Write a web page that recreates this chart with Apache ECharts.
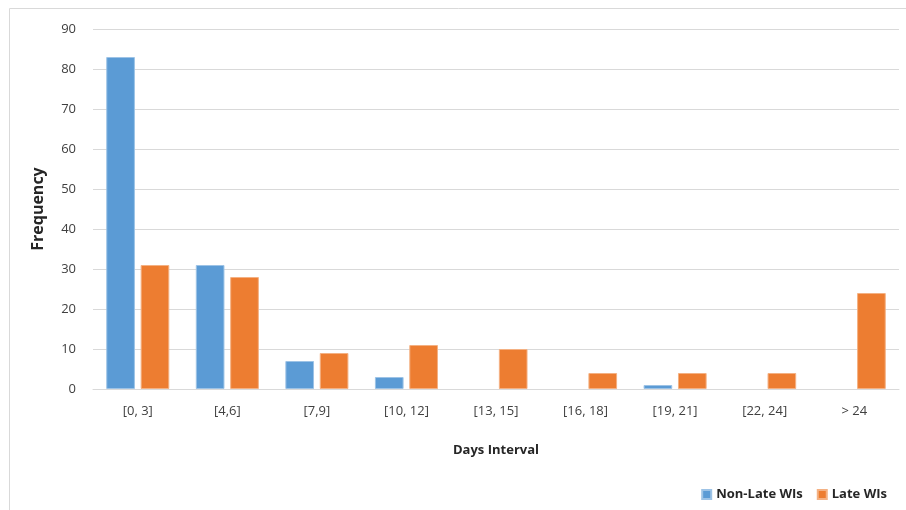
<!DOCTYPE html>
<html><head><meta charset="utf-8">
<script src="https://cdn.jsdelivr.net/npm/echarts@6/dist/echarts.min.js"></script>
<style>html,body{margin:0;padding:0;background:#fff}#c{width:906px;height:510px}</style>
</head><body><div id="c"></div>
<script>
const categories = ['[0, 3]', '[4,6]', '[7,9]', '[10, 12]', '[13, 15]', '[16, 18]', '[19, 21]', '[22, 24]', '> 24'];
const nonLate = [83, 31, 7, 3, 0, 0, 1, 0, 0];
const late = [31, 28, 9, 11, 10, 4, 4, 4, 24];
const yTicks = [0, 10, 20, 30, 40, 50, 60, 70, 80, 90];

const font = '"Open Sans", "Liberation Sans", sans-serif';
function toItems(arr) {
  return arr.map(v => v === 0 ? {value: v, itemStyle: {borderWidth: 0}} : v);
}
const chart = echarts.init(document.getElementById('c'), null, {renderer: 'canvas'});
chart.setOption({
  animation: false,
  textStyle: {fontFamily: font},
  graphic: [{type: 'rect', shape: {x: 9.5, y: 8.5, width: 910, height: 520}, style: {fill: 'none', stroke: '#d9d9d9', lineWidth: 1}, silent: true}],
  grid: {left: 93, right: 7, top: 29, bottom: 121},
  legend: {
    right: 14, top: 483, itemWidth: 9, itemHeight: 9, itemGap: 14,
    icon: 'rect',
    textStyle: {fontFamily: font, fontSize: 13, fontWeight: 'bold', color: '#262626'},
    data: ['Non-Late WIs', 'Late WIs']
  },
  xAxis: {
    type: 'category', data: categories,
    name: 'Days Interval', nameLocation: 'middle', nameGap: 55,
    nameTextStyle: {fontFamily: font, fontSize: 13, fontWeight: 'bold', color: '#262626'},
    axisLine: {lineStyle: {color: '#d9d9d9', width: 1}},
    axisTick: {show: false},
    axisLabel: {fontFamily: font, fontSize: 13, color: '#404040', margin: 16}
  },
  yAxis: {
    type: 'value', min: yTicks[0], max: yTicks[yTicks.length - 1], interval: 10,
    name: 'Frequency', nameLocation: 'middle', nameGap: 47, nameRotate: 90,
    nameTextStyle: {fontFamily: font, fontSize: 16, fontWeight: 'bold', color: '#262626'},
    axisLine: {show: false}, axisTick: {show: false},
    axisLabel: {fontFamily: font, fontSize: 13, color: '#404040', margin: 17},
    splitLine: {lineStyle: {color: '#d9d9d9', width: 1}}
  },
  series: [
    {name: 'Non-Late WIs', type: 'bar', data: toItems(nonLate), barWidth: '32%', barGap: '20%',
     itemStyle: {color: '#5b9bd5', borderColor: '#9dc3e6', borderWidth: 1}},
    {name: 'Late WIs', type: 'bar', data: toItems(late), barWidth: '32%',
     itemStyle: {color: '#ed7d31', borderColor: '#f4b183', borderWidth: 1}}
  ]
});
</script></body></html>
